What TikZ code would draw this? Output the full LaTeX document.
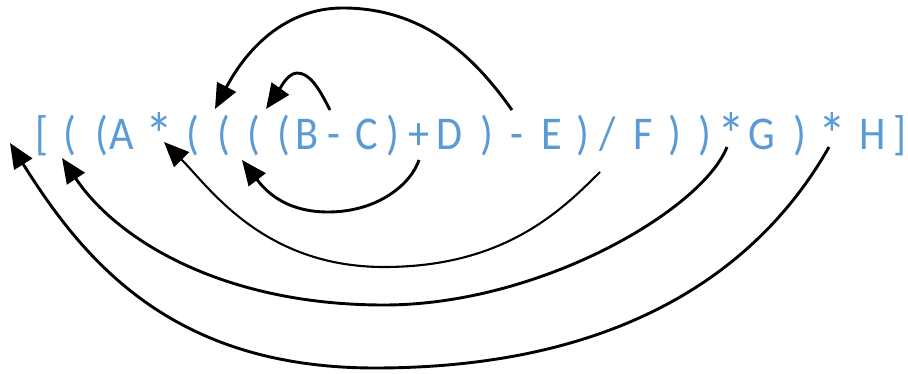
\documentclass[tikz,border=0pt]{standalone}
\usepackage{fontspec}
\newfontfamily\exprfont[FakeStretch=0.9]{Carlito}
\usetikzlibrary{arrows.meta}
\definecolor{exprblue}{RGB}{91,155,213}
\begin{document}
\begin{tikzpicture}[x=1pt,y=-1pt,
  ch/.style={anchor=base, inner sep=0pt, text=exprblue, font=\exprfont\fontsize{47}{47}\selectfont},
  star/.style={anchor=base, inner sep=0pt, text=exprblue, font=\exprfont\fontsize{62}{62}\selectfont},
  arc/.style={line width=2.9pt, -{Triangle[length=25pt,width=21pt]}}]
\useasboundingbox (0,0) rectangle (908,374);
% expression characters
\node[ch] (c01) at (41.5,150) {[};
\node[ch] (c02) at (69.5,150) {(};
\node[ch] (c03) at (101.5,150) {(};
\node[ch] (c04) at (122,150) {A};
\node[star] (c05) at (159.5,157) {*};
\node[ch] (c06) at (193,150) {(};
\node[ch] (c07) at (223.5,150) {(};
\node[ch] (c08) at (253.5,150) {(};
\node[ch] (c09) at (283.5,150) {(};
\node[ch] (c10) at (307.5,150) {B};
\node[ch] (c11) at (334,150) {-};
\node[ch] (c12) at (367,150) {C};
\node[ch] (c13) at (392.5,150) {)};
\node[ch] (c14) at (419,150) {+};
\node[ch] (c15) at (450,150) {D};
\node[ch] (c16) at (486.5,150) {)};
\node[ch] (c17) at (517,150) {-};
\node[ch] (c18) at (551.5,150) {E};
\node[ch] (c19) at (582.5,150) {)};
\node[ch] (c20) at (607.5,150) {/};
\node[ch] (c21) at (643.5,150) {F};
\node[ch] (c22) at (675,150) {)};
\node[ch] (c23) at (705,150) {)};
\node[star] (c24) at (731,157) {*};
\node[ch] (c25) at (762,150) {G};
\node[ch] (c26) at (800,150) {)};
\node[star] (c27) at (832,157) {*};
\node[ch] (c28) at (873,150) {H};
\node[ch] (c29) at (900,150) {]};
% arc end points
\coordinate (s1) at (512,110); \coordinate (m1) at (343,8);   \coordinate (t1) at (215,109);
\coordinate (s2) at (330,110); \coordinate (m2) at (297,73);  \coordinate (t2) at (266,109);
\coordinate (s3) at (419,160); \coordinate (m3) at (328,212); \coordinate (t3) at (242,160);
\coordinate (s4) at (600,172); \coordinate (m4) at (384,267); \coordinate (t4) at (164,142);
\coordinate (s5) at (727,147); \coordinate (m5) at (384,305); \coordinate (t5) at (62,158);
\coordinate (s6) at (829,147); \coordinate (m6) at (375,368); \coordinate (t6) at (10,143);
% arcs
\draw[arc] (s1) .. controls (480,65) and (430,8) .. (m1) .. controls (272,8) and (236,69) .. (t1);
\draw[arc] (s2) .. controls (318,86) and (309,73) .. (m2) .. controls (287,73) and (278,92) .. (t2);
\draw[arc] (s3) .. controls (411,184) and (378,212) .. (m3) .. controls (281,212) and (262,186) .. (t3);
\draw[arc, line width=2.1pt] (s4) .. controls (560,212) and (503,267) .. (m4) .. controls (263,267) and (209,187) .. (t4);
\draw[arc] (s5) .. controls (702,210) and (540,305) .. (m5) .. controls (223,305) and (117,240) .. (t5);
\draw[arc] (s6) .. controls (761,267) and (625,368) .. (m6) .. controls (174,368) and (85,263) .. (t6);
\end{tikzpicture}
\end{document}
